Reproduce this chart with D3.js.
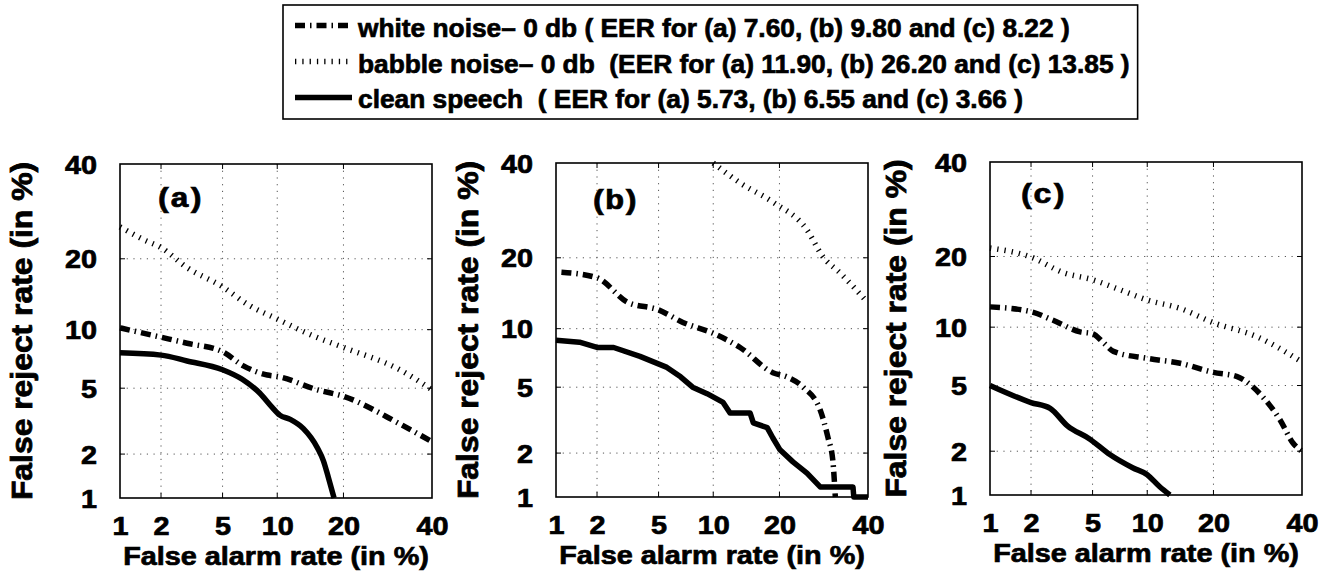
<!DOCTYPE html>
<html>
<head>
<meta charset="utf-8">
<script src="https://cdn.jsdelivr.net/npm/d3@7"></script>
<style>
  html, body { margin: 0; padding: 0; background: #fff; }
  svg { display: block; }
  text { font-family: "Liberation Sans", Arial, Helvetica, sans-serif; font-weight: 700; fill: #000; stroke: #000; stroke-width: 0.7px; }
</style>
</head>
<body>
<svg id="chart" width="1327" height="577"></svg>
<script>
// ---------- DATA (False alarm %, False reject %) ----------
const xTicks = [1, 2, 5, 10, 20, 40];
const yTicks = [1, 2, 5, 10, 20, 40];
const panelNames = ["(a)", "(b)", "(c)"];
const seriesNames = ["white", "babble", "clean"];
const legendLabels = [
  "white noise\u2013 0 db ( EER for (a) 7.60, (b) 9.80 and (c) 8.22 )",
  "babble noise\u2013 0 db  (EER for (a) 11.90, (b) 26.20 and (c) 13.85 )",
  "clean speech  ( EER for (a) 5.73, (b) 6.55 and (c) 3.66 )"
];
const xTitle = "False alarm rate (in %)";
const yTitle = "False reject rate (in %)";

const whiteA = [[1,10.2],[2,9.2],[3,8.6],[5,7.8],[6.6,6.6],[8.9,5.9],[10,5.8],[15.5,4.9],[20,4.5],[32,3.1],[40,2.4]];
const babbleA = [[1,26],[1.5,23.5],[2,22],[3,18.5],[5,15.5],[7,13],[10,11.2],[15,9.3],[20,8.2],[32,6.3],[40,4.9]];
const cleanA = [[1,7.7],[2,7.5],[3,7.0],[5,6.3],[6.5,5.6],[8.1,4.7],[9.4,3.9],[10.3,3.5],[11.6,3.3],[13.4,2.9],[15.5,2.2],[16.5,1.8],[17.3,1.4],[18.3,1.0]];

const whiteB = [[1.1,17.6],[2,16.7],[3.2,13.2],[5,12.2],[6.9,10.7],[10,9.5],[13.5,8.1],[18.8,6.0],[21.4,5.7],[24.7,5.0],[28.4,3.7],[30.2,2.5],[31.3,1.8],[31.9,1.0]];
const babbleB = [[10,40],[13.5,35.3],[18.8,31],[25.5,25.2],[29,20.2],[33,17.5],[40,13.1]];
const cleanB = [[1,8.8],[1.5,8.6],[2,8.1],[2.6,8.1],[3.85,7.3],[5.6,6.4],[6.7,5.7],[7.8,5.0],[9.3,4.6],[11.2,4.1],[12.1,3.55],[15.0,3.55],[15.5,3.1],[17.8,2.9],[18.8,2.5],[20.1,2.1],[22.6,1.75],[25.5,1.47],[28.4,1.18],[36.2,1.18],[36.4,1.0],[40,1.0]];

const whiteC = [[1,12.4],[2,11.8],[2.8,10.8],[4.2,9.5],[5,9.3],[5.8,8.4],[6.6,7.6],[10,7.0],[14.4,6.6],[20,5.9],[24.7,5.6],[30.4,4.3],[34.5,3.15],[37.7,2.26],[40,2.0]];
const babbleC = [[1,21.5],[2,19.9],[3.3,17.3],[5,16.2],[7.2,14.7],[10,13.3],[14.4,12.2],[20,10.5],[29,9.0],[40,6.7]];
const cleanC = [[1,5.0],[2,4.0],[2.7,3.7],[3.5,2.9],[4.8,2.4],[6.3,1.9],[8.4,1.55],[10,1.39],[11.5,1.15],[12.9,1.0]];

// ---------- probit helper ----------
function probit(p) {
  const a=[-3.969683028665376e+01,2.209460984245205e+02,-2.759285104469687e+02,1.383577518672690e+02,-3.066479806614716e+01,2.506628277459239e+00];
  const b=[-5.447609879822406e+01,1.615858368580409e+02,-1.556989798598866e+02,6.680131188771972e+01,-1.328068155288572e+01];
  const c=[-7.784894002430293e-03,-3.223964580411365e-01,-2.400758277161838e+00,-2.549732539343734e+00,4.374664141464968e+00,2.938163982698783e+00];
  const d=[7.784695709041462e-03,3.224671290700398e-01,2.445134137142996e+00,3.754408661907416e+00];
  const pl=0.02425, ph=1-pl;
  let q, r;
  if (p < pl) { q=Math.sqrt(-2*Math.log(p)); return (((((c[0]*q+c[1])*q+c[2])*q+c[3])*q+c[4])*q+c[5])/((((d[0]*q+d[1])*q+d[2])*q+d[3])*q+1); }
  if (p <= ph) { q=p-0.5; r=q*q; return (((((a[0]*r+a[1])*r+a[2])*r+a[3])*r+a[4])*r+a[5])*q/(((((b[0]*r+b[1])*r+b[2])*r+b[3])*r+b[4])*r+1); }
  q=Math.sqrt(-2*Math.log(1-p)); return -(((((c[0]*q+c[1])*q+c[2])*q+c[3])*q+c[4])*q+c[5])/((((d[0]*q+d[1])*q+d[2])*q+d[3])*q+1);
}
function probitScale(range) {
  const lin = d3.scaleLinear().domain([probit(0.01), probit(0.40)]).range(range);
  const s = v => lin(probit(v / 100));
  s.domain = () => [1, 40];
  s.range = () => lin.range();
  s.copy = () => probitScale(range);
  return s;
}

// ---------- LAYOUT ----------
const panels = [
  {x0:120, x1:432, y0:164, y1:498, ytx:21,  lx:178,  ly:199, series:[whiteA, babbleA, cleanA]},
  {x0:556, x1:868, y0:163, y1:497, ytx:467, lx:613,  ly:201, series:[whiteB, babbleB, cleanB]},
  {x0:990, x1:1302,y0:162, y1:495, ytx:895, lx:1041, ly:195, series:[whiteC, babbleC, cleanC]}
];
const styles = {
  white:  {w:5.5, dash:"10,5,1.5,5", color:"#000"},
  babble: {w:5.5, dash:"1.3,6",      color:"#000"},
  clean:  {w:5.5, dash:null,         color:"#000"}
};
const SX = 1.13;

const svg = d3.select("#chart");

panels.forEach((P, i) => {
  const xs = probitScale([P.x0, P.x1]);
  const ys = probitScale([P.y1, P.y0]);
  const g = svg.append("g");

  // grid
  g.selectAll(".vg").data(xTicks.slice(1, -1)).join("line")
    .attr("x1", d => xs(d)).attr("x2", d => xs(d)).attr("y1", P.y0).attr("y2", P.y1)
    .attr("stroke", "#555").attr("stroke-width", 1).attr("stroke-dasharray", "1.2,5.5");
  g.selectAll(".hg").data(yTicks.slice(1, -1)).join("line")
    .attr("y1", d => ys(d)).attr("y2", d => ys(d)).attr("x1", P.x0).attr("x2", P.x1)
    .attr("stroke", "#555").attr("stroke-width", 1).attr("stroke-dasharray", "1.2,5.5");

  // inward ticks
  xTicks.slice(1, -1).forEach(t => {
    g.append("line").attr("x1", xs(t)).attr("x2", xs(t)).attr("y1", P.y0).attr("y2", P.y0 + 5).attr("stroke", "#000");
    g.append("line").attr("x1", xs(t)).attr("x2", xs(t)).attr("y1", P.y1).attr("y2", P.y1 - 5).attr("stroke", "#000");
  });
  yTicks.slice(1, -1).forEach(t => {
    g.append("line").attr("y1", ys(t)).attr("y2", ys(t)).attr("x1", P.x0).attr("x2", P.x0 + 5).attr("stroke", "#000");
    g.append("line").attr("y1", ys(t)).attr("y2", ys(t)).attr("x1", P.x1).attr("x2", P.x1 - 5).attr("stroke", "#000");
  });

  // series
  const line = d3.line().x(d => xs(d[0])).y(d => ys(d[1]));
  const order = [1, 0, 2];
  order.forEach(k => {
    const st = styles[seriesNames[k]];
    const curve = (i === 1 && k === 2) ? d3.curveLinear : d3.curveMonotoneX;
    g.append("path").datum(P.series[k])
      .attr("d", line.curve(curve))
      .attr("fill", "none").attr("stroke", st.color).attr("stroke-width", st.w)
      .attr("stroke-dasharray", st.dash).attr("stroke-linejoin", "round");
  });

  // frame
  g.append("rect").attr("x", P.x0).attr("y", P.y0).attr("width", P.x1 - P.x0).attr("height", P.y1 - P.y0)
    .attr("fill", "none").attr("stroke", "#000").attr("stroke-width", 1.6);

  // x axis
  const gx = g.append("g").attr("transform", `translate(0,${P.y1})`)
    .call(d3.axisBottom(xs).tickValues(xTicks).tickFormat(d3.format("d")).tickSize(0));
  gx.select(".domain").remove();
  gx.selectAll("text").attr("y", 37).attr("dy", null)
    .attr("font-size", 25.5).attr("font-family", null)
    .attr("transform", `scale(${SX},1)`);

  // y axis
  const gy = g.append("g").attr("transform", `translate(${P.x0},0)`)
    .call(d3.axisLeft(ys).tickValues(yTicks).tickFormat(d3.format("d")).tickSize(0));
  gy.select(".domain").remove();
  gy.selectAll("text").attr("x", -23 / SX).attr("dy", null).attr("y", 9)
    .attr("font-size", 25.5).attr("font-family", null)
    .attr("transform", `scale(${SX},1)`);

  // titles
  g.append("text").attr("transform", `translate(${(P.x0 + P.x1) / 2},${P.y1 + 67}) scale(${SX},1)`)
    .attr("text-anchor", "middle").attr("font-size", 25.5).text(xTitle);
  g.append("text").attr("transform", `translate(${P.ytx},${(P.y0 + P.y1) / 2}) rotate(-90) scale(1.25,1.17)`)
    .attr("text-anchor", "middle").attr("dy", "0.36em").attr("font-size", 25.5).text(yTitle);

  // panel label
  g.append("text").attr("transform", `translate(${P.lx},${P.ly}) scale(1.15,1)`)
    .attr("text-anchor", "middle").attr("dy", "0.3em")
    .style("font-family", "'Liberation Mono', 'Courier New', monospace").style("letter-spacing", "-3px")
    .attr("font-size", 28)
    .text(panelNames[i]);
});

// ---------- LEGEND ----------
const leg = svg.append("g");
const rowBase = [37, 72.5, 108];
const rowLine = [25.5, 61.5, 97.5];
const box = leg.append("rect").attr("x", 283).attr("y", 5).attr("height", 114)
  .attr("fill", "#fff").attr("stroke", "#000").attr("stroke-width", 1.6);
let maxEnd = 0;
seriesNames.forEach((s, k) => {
  const st = styles[s];
  leg.append("line").attr("x1", 295).attr("x2", 352).attr("y1", rowLine[k]).attr("y2", rowLine[k])
    .attr("stroke", st.color).attr("stroke-width", st.w).attr("stroke-dasharray", st.dash);
  const t = leg.append("text").attr("x", 358).attr("y", rowBase[k]).attr("font-size", 26.3)
    .style("white-space", "pre").text(legendLabels[k]);
  maxEnd = Math.max(maxEnd, 358 + t.node().getComputedTextLength());
});
box.attr("width", maxEnd + 8 - 283);
</script>
</body>
</html>
